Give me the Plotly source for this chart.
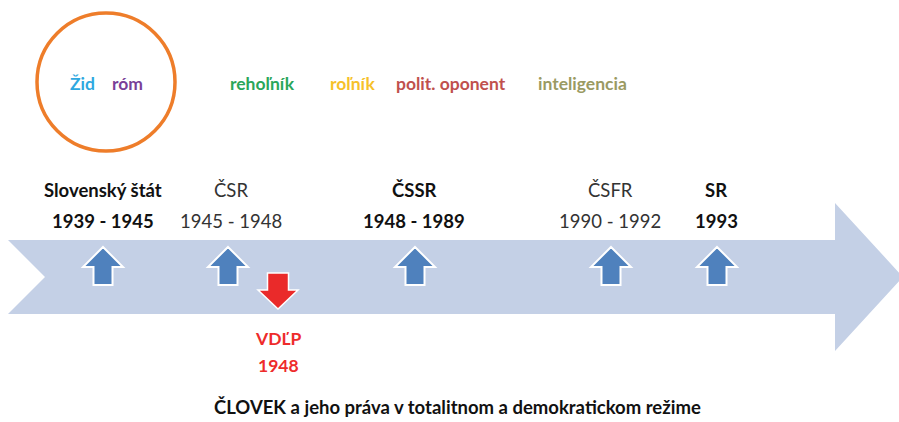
import plotly.graph_objects as go

W, H = 899, 422
FONT = "Lato"

# Category labels (groups) along the top
groups = ["Žid", "róm", "rehoľník", "roľník", "polit. oponent", "inteligencia"]
group_x = [82, 127, 262, 352, 451, 582]
group_colors = ["#2ea8e0", "#7a3f98", "#2aa65a", "#f6c12a", "#c0504d", "#9a9a62"]

# Periods on the timeline
period_names = ["Slovenský štát", "ČSR", "ČSSR", "ČSFR", "SR"]
period_years = ["1939 - 1945", "1945 - 1948", "1948 - 1989", "1990 - 1992", "1993"]
period_bold = [True, False, True, False, True]
period_x = [103, 231, 414, 610, 716]
arrow_x = [103, 228, 415, 611, 717]

event_name = "VDĽP"
event_year = "1948"
event_x = 278

title = "ČLOVEK a jeho práva v totalitnom a demokratickom režime"

fig = go.Figure()
shapes = []

# big timeline arrow
shapes.append(dict(type="path", xref="x", yref="y",
                   path="M 8,240 L 835,240 L 835,203 L 903,277 L 835,351 L 835,314 L 8,314 L 45,277 Z",
                   fillcolor="#c4d0e6", line=dict(width=0), layer="below"))

# orange circle
shapes.append(dict(type="circle", xref="x", yref="y", x0=37, x1=175, y0=13, y1=151,
                   line=dict(color="#ee7d2a", width=3.5), fillcolor="rgba(0,0,0,0)"))


def up_arrow(cx, top=247, bottom=285, hw=20, sw=9.5, hh=20):
    return (f"M {cx},{top} L {cx+hw},{top+hh} L {cx+sw},{top+hh} L {cx+sw},{bottom} "
            f"L {cx-sw},{bottom} L {cx-sw},{top+hh} L {cx-hw},{top+hh} Z")


def down_arrow(cx, top=273, bottom=309, hw=20, sw=10.5, hh=19):
    return (f"M {cx-sw},{top} L {cx+sw},{top} L {cx+sw},{bottom-hh} L {cx+hw},{bottom-hh} "
            f"L {cx},{bottom} L {cx-hw},{bottom-hh} L {cx-sw},{bottom-hh} Z")


for ax in arrow_x:
    shapes.append(dict(type="path", xref="x", yref="y", path=up_arrow(ax),
                       fillcolor="#4f81bd", line=dict(color="white", width=2)))

shapes.append(dict(type="path", xref="x", yref="y", path=down_arrow(event_x),
                   fillcolor="#ea2a2a", line=dict(color="white", width=1.5)))

ann = []
for g, gx, gc in zip(groups, group_x, group_colors):
    ann.append(dict(x=gx, y=83, text=f"<b>{g}</b>", showarrow=False,
                    font=dict(family=FONT, size=17.5, color=gc), xanchor="center", yanchor="middle"))

for n, yr, b, px in zip(period_names, period_years, period_bold, period_x):
    t1 = f"<b>{n}</b>" if b else n
    t2 = f"<b>{yr}</b>" if b else yr
    col = "#111111" if b else "#333333"
    ann.append(dict(x=px, y=190, text=t1, showarrow=False,
                    font=dict(family=FONT, size=18.5, color=col), xanchor="center", yanchor="middle"))
    ann.append(dict(x=px, y=221, text=t2, showarrow=False,
                    font=dict(family=FONT, size=18.5, color=col), xanchor="center", yanchor="middle"))

ann.append(dict(x=event_x, y=338, text=f"<b>{event_name}</b>", showarrow=False,
                font=dict(family=FONT, size=17.5, color="#ee2b2b"), xanchor="center", yanchor="middle"))
ann.append(dict(x=event_x, y=365, text=f"<b>{event_year}</b>", showarrow=False,
                font=dict(family=FONT, size=17.5, color="#ee2b2b"), xanchor="center", yanchor="middle"))

ann.append(dict(x=457, y=420, text=f"<b>{title}</b>", showarrow=False,
                font=dict(family=FONT, size=18.5, color="#111111"), xanchor="center", yanchor="bottom"))

fig.update_layout(
    width=W, height=H, margin=dict(l=0, r=0, t=0, b=0),
    paper_bgcolor="white", plot_bgcolor="white",
    xaxis=dict(range=[0, W], visible=False, fixedrange=True),
    yaxis=dict(range=[H, 0], visible=False, fixedrange=True),
    shapes=shapes, annotations=ann, showlegend=False,
)

fig.write_html("out.html", config={"displayModeBar": False},
               post_script="document.body.style.margin='0';document.body.style.overflow='hidden';")
